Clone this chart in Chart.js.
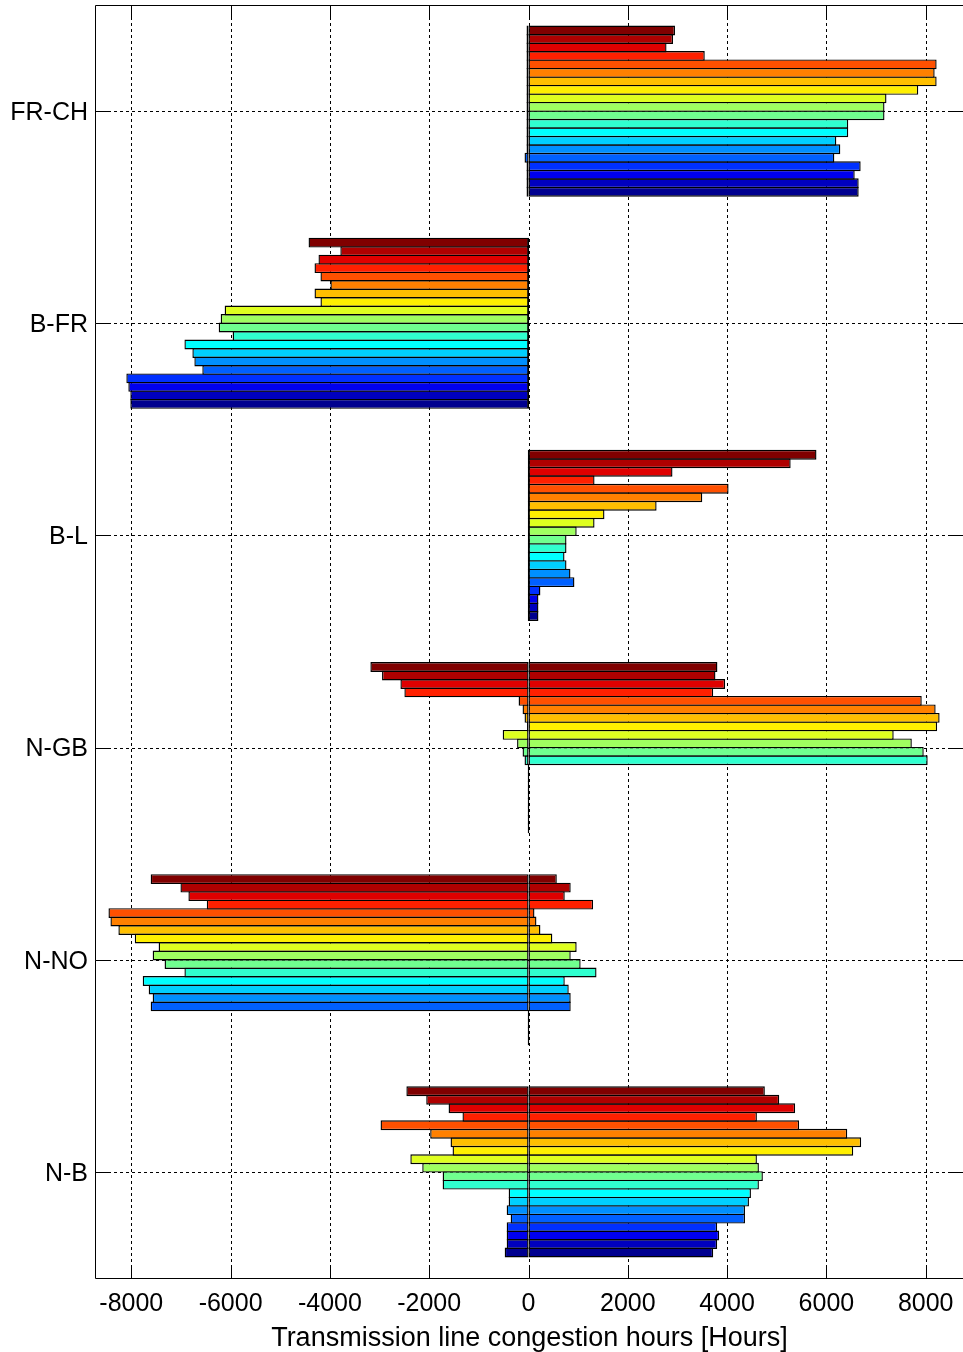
<!DOCTYPE html>
<html>
<head>
<meta charset="utf-8">
<title>Transmission line congestion hours</title>
<script src="https://cdn.jsdelivr.net/npm/chart.js@4.4.1/dist/chart.umd.min.js"></script>
<style>
  html, body { margin: 0; padding: 0; background: #ffffff; overflow: hidden; }
  #wrap { position: relative; width: 963px; height: 1352px; }
  canvas { display: block; }
</style>
</head>
<body>
<div id="wrap"><canvas id="chart" width="963" height="1352"></canvas></div>
<script>
// Interconnector corridors, listed top to bottom
const corridors = ['FR-CH', 'B-FR', 'B-L', 'N-GB', 'N-NO', 'N-B'];

// Tick values of the hours axis
const xTickValues = [-8000, -6000, -4000, -2000, 0, 2000, 4000, 6000, 8000];

// Congested hours per scenario (20 scenarios, top bar first).
// Positive = flow in the named direction, negative = reverse direction.
const frChPos = [2950, 2910, 2780, 3550, 8220, 8180, 8220, 7850, 7210, 7170, 7170, 6440, 6440, 6200, 6280, 6160, 6690, 6570, 6650, 6650];
const frChNeg = [-40, -40, -40, -40, -40, -40, -40, -40, -40, -40, -40, -40, -40, -40, -40, -80, -40, -40, -40, -40];

const bFrPos = [0, 0, 0, 0, 0, 0, 0, 0, 0, 0, 0, 0, 0, 0, 0, 0, 0, 0, 0, 0];
const bFrNeg = [-4430, -3790, -4230, -4310, -4190, -3990, -4310, -4190, -6120, -6200, -6240, -5960, -6930, -6770, -6730, -6570, -8100, -8060, -8020, -8020];

const bLPos = [5800, 5280, 2900, 1330, 4030, 3500, 2580, 1530, 1330, 970, 765, 765, 725, 765, 845, 925, 240, 200, 200, 200];
const bLNeg = [0, 0, 0, 0, 0, 0, 0, 0, 0, 0, 0, 0, 0, 0, 0, 0, 0, 0, 0, 0];

const nGbPos = [3805, 3765, 3960, 3720, 7920, 8200, 8280, 8230, 7355, 7720, 7960, 8040, 0, 0, 0, 0, 0, 0, 0, 0];
const nGbNeg = [-3185, -2950, -2580, -2500, -200, -120, -80, -30, -520, -230, -120, -80, 0, 0, 0, 0, 0, 0, 0, 0];

const nNoPos = [570, 850, 730, 1300, 120, 160, 240, 480, 970, 850, 1050, 1370, 730, 810, 850, 850, 0, 0, 0, 0];
const nNoNeg = [-7610, -7010, -6850, -6480, -8460, -8420, -8260, -7930, -7450, -7570, -7330, -6930, -7770, -7650, -7570, -7610, 0, 0, 0, 0];

const nBPos = [4760, 5050, 5370, 4600, 5450, 6420, 6700, 6540, 4600, 4640, 4720, 4640, 4480, 4440, 4360, 4360, 3800, 3840, 3800, 3720];
const nBNeg = [-2460, -2060, -1610, -1330, -2980, -1980, -1570, -1530, -2380, -2140, -1730, -1730, -400, -400, -440, -360, -440, -440, -440, -480];

// Scenario colours (jet map, dark red at the top down to dark blue)
const scenarioColors = ['#800000', '#af0000', '#df0000', '#ff2000', '#ff5000', '#ff8000', '#ffbf00', '#ffef00',
  '#dfff20', '#9fff60', '#70ff8f', '#30ffcf', '#00ffff', '#00cfff', '#008fff', '#0060ff',
  '#0030ff', '#0000ef', '#0000bf', '#00008f'];

const posRows = [frChPos, bFrPos, bLPos, nGbPos, nNoPos, nBPos];
const negRows = [frChNeg, bFrNeg, bLNeg, nGbNeg, nNoNeg, nBNeg];

const FONT = "'Liberation Sans', Arial, Helvetica, sans-serif";

// One slot per scenario; the negative and positive parts share the slot
const datasets = [];
scenarioColors.forEach((color, s) => {
  datasets.push({
    label: 'Scenario ' + (s + 1) + ' (reverse)',
    stack: 'scenario' + s,
    data: negRows.map(r => r[s]),
    backgroundColor: color
  });
  datasets.push({
    label: 'Scenario ' + (s + 1),
    stack: 'scenario' + s,
    data: posRows.map(r => r[s]),
    backgroundColor: color
  });
});

// Dotted grid under the bars, solid box and inward tick marks on top
const axesFrame = {
  id: 'axesFrame',
  beforeDatasetsDraw(chart) {
    const { ctx, chartArea: a } = chart;
    const xs = chart.scales.x, ys = chart.scales.y;
    ctx.save();
    ctx.strokeStyle = '#000';
    ctx.lineWidth = 1;
    ctx.setLineDash([3, 3]);
    ctx.beginPath();
    xs.ticks.forEach(t => {
      const p = Math.round(xs.getPixelForValue(t.value)) + 0.5;
      ctx.moveTo(p, a.top); ctx.lineTo(p, a.bottom);
    });
    ys.ticks.forEach((t, i) => {
      const p = Math.round(ys.getPixelForTick(i)) + 0.5;
      ctx.moveTo(a.left, p); ctx.lineTo(a.right, p);
    });
    ctx.stroke();
    ctx.restore();
  },
  afterDatasetsDraw(chart) {
    const { ctx, chartArea: a } = chart;
    const xs = chart.scales.x, ys = chart.scales.y;
    const L = Math.round(a.left) - 0.5, B = Math.round(a.bottom) + 0.5, T = Math.round(a.top) + 0.5, R = a.right;
    const len = 13;
    ctx.save();
    ctx.strokeStyle = '#000';
    ctx.lineWidth = 1;
    ctx.setLineDash([]);
    ctx.beginPath();
    ctx.moveTo(L, T); ctx.lineTo(R, T);
    ctx.moveTo(L, T); ctx.lineTo(L, B);
    ctx.moveTo(L, B); ctx.lineTo(R, B);
    xs.ticks.forEach(t => {
      const p = Math.round(xs.getPixelForValue(t.value)) + 0.5;
      ctx.moveTo(p, B); ctx.lineTo(p, B - len);
      ctx.moveTo(p, T); ctx.lineTo(p, T + len);
    });
    ys.ticks.forEach((t, i) => {
      const p = Math.round(ys.getPixelForTick(i)) + 0.5;
      ctx.moveTo(L, p); ctx.lineTo(L + len, p);
      ctx.moveTo(R, p); ctx.lineTo(R - len, p);
    });
    ctx.stroke();
    ctx.restore();
  }
};

new Chart(document.getElementById('chart'), {
  type: 'bar',
  data: { labels: corridors, datasets },
  options: {
    indexAxis: 'y',
    responsive: false,
    animation: false,
    devicePixelRatio: 1,
    layout: { padding: { top: 5, right: 0, bottom: 0, left: 0 } },
    plugins: { legend: { display: false }, tooltip: { enabled: false } },
    datasets: {
      bar: {
        categoryPercentage: 0.8,
        barPercentage: 1.165,
        minBarLength: 1.4,
        borderSkipped: false,
        borderWidth: 1.4,
        borderColor: '#000000'
      }
    },
    scales: {
      x: {
        type: 'linear',
        min: -8711,
        max: 8751,
        stacked: false,
        grid: { display: false },
        border: { display: false },
        afterBuildTicks: s => { s.ticks = xTickValues.map(v => ({ value: v })); },
        afterFit: s => { s.height = 74; s.paddingLeft = 0; s.paddingRight = 0; },
        ticks: {
          color: '#000', padding: 3, maxRotation: 0, autoSkip: false,
          font: { family: FONT, size: 25 },
          callback: v => String(v)
        },
        title: {
          display: true,
          text: 'Transmission line congestion hours [Hours]',
          color: '#000',
          font: { family: FONT, size: 27, lineHeight: 1.0 },
          padding: { top: 0, bottom: 0 }
        }
      },
      y: {
        type: 'category',
        offset: true,
        grid: { display: false },
        border: { display: false },
        afterFit: s => { s.width = 96; s.paddingTop = 0; s.paddingBottom = 0; },
        ticks: { color: '#000', padding: 0, labelOffset: 2, autoSkip: false, font: { family: FONT, size: 25 } }
      }
    }
  },
  plugins: [axesFrame]
});
</script>
</body>
</html>
